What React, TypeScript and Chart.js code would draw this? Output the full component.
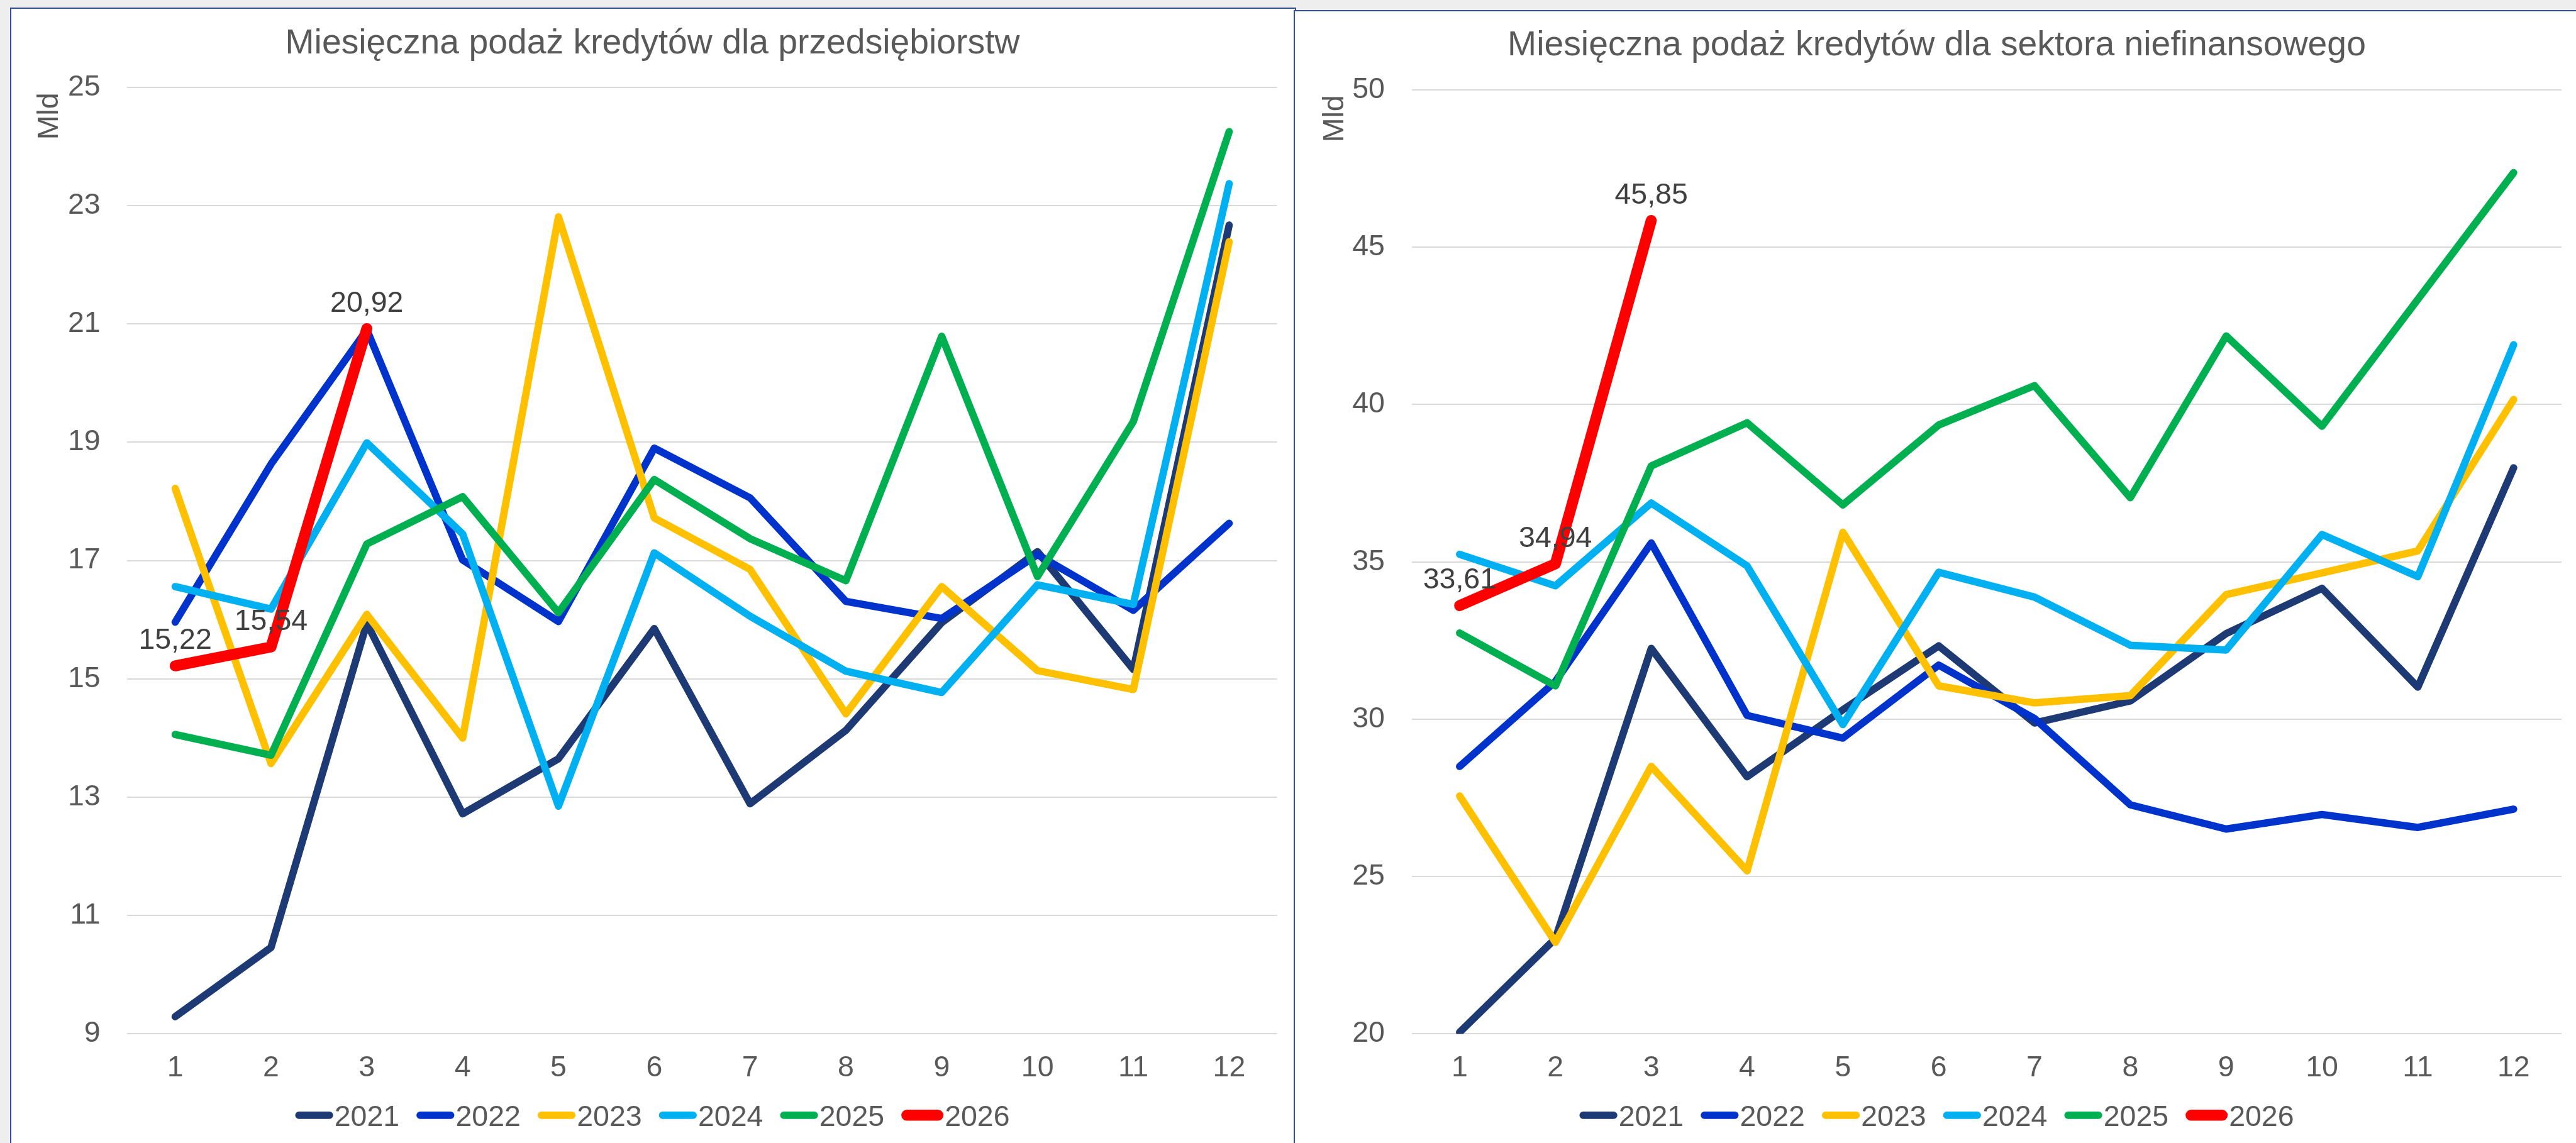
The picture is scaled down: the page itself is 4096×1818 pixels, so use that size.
import React, { useEffect, useRef } from "react";
import { Chart, registerables } from "chart.js";

Chart.register(...registerables);

// ---------- data ----------
const MONTHS = ["1", "2", "3", "4", "5", "6", "7", "8", "9", "10", "11", "12"];
const YEARS = ["2021", "2022", "2023", "2024", "2025", "2026"];

// Miesięczna podaż kredytów dla przedsiębiorstw (mld)
const ENT_2021 = [9.29, 10.46, 15.94, 12.72, 13.65, 15.85, 12.89, 14.13, 15.95, 17.15, 15.16, 22.67];
const ENT_2022 = [15.96, 18.63, 20.9, 17.01, 15.97, 18.9, 18.06, 16.31, 16.02, 17.1, 16.16, 17.63];
const ENT_2023 = [18.22, 13.57, 16.09, 14.0, 22.81, 17.72, 16.85, 14.41, 16.56, 15.14, 14.82, 22.39];
const ENT_2024 = [16.56, 16.18, 18.99, 17.45, 12.85, 17.13, 16.06, 15.13, 14.77, 16.59, 16.26, 23.37];
const ENT_2025 = [14.06, 13.71, 17.28, 18.08, 16.12, 18.37, 17.37, 16.66, 20.79, 16.73, 19.35, 24.25];
const ENT_2026 = [15.22, 15.54, 20.92];

// Miesięczna podaż kredytów dla sektora niefinansowego (mld)
const NF_2021 = [20.05, 23.03, 32.25, 28.17, 30.3, 32.33, 29.88, 30.58, 32.72, 34.16, 31.02, 37.99];
const NF_2022 = [28.5, 31.2, 35.6, 30.12, 29.4, 31.72, 30.02, 27.28, 26.51, 26.97, 26.56, 27.14];
const NF_2023 = [27.56, 22.91, 28.5, 25.18, 35.94, 31.06, 30.52, 30.75, 33.96, 34.65, 35.35, 40.16];
const NF_2024 = [35.24, 34.24, 36.87, 34.87, 29.83, 34.67, 33.88, 32.35, 32.2, 35.87, 34.53, 41.9];
const NF_2025 = [32.74, 31.06, 38.05, 39.42, 36.81, 39.35, 40.6, 37.04, 42.18, 39.31, 43.34, 47.37];
const NF_2026 = [33.61, 34.94, 45.85];

const ENT_TITLE = "Miesięczna podaż kredytów dla przedsiębiorstw";
const NF_TITLE = "Miesięczna podaż kredytów dla sektora niefinansowego";
const Y_TITLE = "Mld";

const ENT_TICKS = { min: 9, max: 25, step: 2 };
const NF_TICKS = { min: 20, max: 50, step: 5 };

// ---------- styles ----------
const COLORS = ["#1D3A75", "#0033CC", "#FFC000", "#00B0F0", "#00B050", "#FF0000"];
const LINE_W = [11.7, 11.7, 11.7, 11.7, 11.7, 17.5];
const FONT = "'Liberation Sans', Arial, sans-serif";
const TEXT = "#595959";
const LABEL_TEXT = "#404040";
const FS = 46.5;
const TITLE_FS = 55.3;
const X_AXIS_H = 100;

type Box = { left: number; top: number; width: number; height: number };
type Area = { left: number; right: number; top: number; bottom: number };

type PanelProps = {
  title: string;
  series: number[][];
  ticks: { min: number; max: number; step: number };
  canvas: Box;
  plot: Area;
  titleBaseline: number;
  mld: { x: number; y: number };
  legendBaseline: number;
};

function Panel(props: PanelProps) {
  const ref = useRef<HTMLCanvasElement | null>(null);

  useEffect(() => {
    const el = ref.current;
    if (!el) return;
    const { canvas: c, plot, series, ticks } = props;
    const yAxisW = plot.left - c.left;
    const padRight = c.left + c.width - plot.right;
    const padTop = plot.top - c.top;
    const padBottom = c.top + c.height - plot.bottom - X_AXIS_H;

    const decor = {
      id: "decor",
      afterDatasetsDraw(chart: any) {
        const ctx = chart.ctx as CanvasRenderingContext2D;
        const idx = series.length - 1;
        const meta = chart.getDatasetMeta(idx);
        ctx.save();
        ctx.font = `${FS}px ${FONT}`;
        ctx.fillStyle = LABEL_TEXT;
        ctx.textAlign = "center";
        ctx.textBaseline = "alphabetic";
        meta.data.forEach((pt: any, i: number) => {
          const v = series[idx][i];
          ctx.fillText(v.toFixed(2).replace(".", ","), pt.x, pt.y - 27);
        });
        ctx.restore();
      },
      afterDraw(chart: any) {
        const ctx = chart.ctx as CanvasRenderingContext2D;
        const W = chart.width;
        ctx.save();
        // title
        ctx.font = `${TITLE_FS}px ${FONT}`;
        ctx.fillStyle = TEXT;
        ctx.textAlign = "center";
        ctx.textBaseline = "alphabetic";
        ctx.fillText(props.title, W / 2, props.titleBaseline - c.top);
        // y-axis title
        ctx.save();
        ctx.translate(props.mld.x - c.left, props.mld.y - c.top);
        ctx.rotate(-Math.PI / 2);
        ctx.font = `${FS}px ${FONT}`;
        ctx.textAlign = "center";
        ctx.fillText(Y_TITLE, 0, 0);
        ctx.restore();
        // legend
        ctx.font = `${FS}px ${FONT}`;
        ctx.textAlign = "left";
        const gapText = 2;
        const gapItem = 27;
        const items = YEARS.map((y, i) => {
          const sw = i === YEARS.length - 1 ? 67 : 60.3;
          return { label: y, color: COLORS[i], lw: LINE_W[i], sw, tw: ctx.measureText(y).width };
        });
        const total =
          items.reduce((s, it) => s + it.sw + gapText + it.tw, 0) + gapItem * (items.length - 1);
        let x = W / 2 - total / 2;
        const base = props.legendBaseline - c.top;
        const midY = base - 0.358 * FS;
        items.forEach((it) => {
          ctx.strokeStyle = it.color;
          ctx.lineWidth = it.lw;
          ctx.lineCap = "round";
          ctx.beginPath();
          ctx.moveTo(x + it.lw / 2, midY);
          ctx.lineTo(x + it.sw - it.lw / 2, midY);
          ctx.stroke();
          x += it.sw + gapText;
          ctx.fillStyle = TEXT;
          ctx.fillText(it.label, x, base);
          x += it.tw + gapItem;
        });
        ctx.restore();
      },
    };

    const chart = new Chart(el, {
      type: "line",
      data: {
        labels: MONTHS,
        datasets: series.map((d, i) => ({
          label: YEARS[i],
          data: d,
          borderColor: COLORS[i],
          backgroundColor: COLORS[i],
          borderWidth: LINE_W[i],
          borderCapStyle: "round",
          borderJoinStyle: "round",
          pointRadius: 0,
          pointHoverRadius: 0,
          tension: 0,
          fill: false,
          order: series.length - 1 - i,
        })),
      },
      options: {
        responsive: false,
        maintainAspectRatio: false,
        animation: false,
        devicePixelRatio: 1,
        events: [],
        layout: { padding: { left: 0, right: padRight, top: padTop, bottom: padBottom } },
        plugins: {
          legend: { display: false },
          title: { display: false },
          tooltip: { enabled: false },
        },
        scales: {
          x: {
            type: "category",
            offset: true,
            grid: { display: false, drawTicks: false },
            border: { display: false },
            ticks: {
              color: TEXT,
              font: { size: FS, family: FONT },
              padding: 26.7,
              maxRotation: 0,
              autoSkip: false,
            },
            afterFit: (s: any) => {
              s.height = X_AXIS_H;
            },
          },
          y: {
            type: "linear",
            min: ticks.min,
            max: ticks.max,
            ticks: {
              stepSize: ticks.step,
              color: TEXT,
              font: { size: FS, family: FONT },
              padding: 42.8,
              callback: (v: any) => String(v),
            },
            grid: { color: "#D9D9D9", lineWidth: 2, drawTicks: false },
            border: { display: false },
            afterFit: (s: any) => {
              s.width = yAxisW;
            },
          },
        },
      },
      plugins: [decor],
    } as any);

    return () => {
      chart.destroy();
    };
  }, []);

  const c = props.canvas;
  return (
    <canvas
      ref={ref}
      width={c.width}
      height={c.height}
      style={{ position: "absolute", left: c.left, top: c.top, width: c.width, height: c.height }}
    />
  );
}

export default function App() {
  const frameStyle = (left: number, top: number, width: number): React.CSSProperties => ({
    position: "absolute",
    left,
    top,
    width,
    height: 1900,
    boxSizing: "border-box",
    border: "2px solid #2F528F",
    background: "#FFFFFF",
  });

  return (
    <div
      style={{
        position: "fixed",
        left: 0,
        top: 0,
        width: 4096,
        height: 1818,
        overflow: "hidden",
        background: "#EEEEEE",
      }}
    >
      <div style={frameStyle(16, 12, 2045)} />
      <div style={frameStyle(2057, 15.6, 2100)} />
      <Panel
        title={ENT_TITLE}
        series={[ENT_2021, ENT_2022, ENT_2023, ENT_2024, ENT_2025, ENT_2026]}
        ticks={ENT_TICKS}
        canvas={{ left: 18, top: 14, width: 2039, height: 1804 }}
        plot={{ left: 202.4, right: 2030.6, top: 138.8, bottom: 1644.4 }}
        titleBaseline={84.9}
        mld={{ x: 92.4, y: 184.9 }}
        legendBaseline={1790.5}
      />
      <Panel
        title={NF_TITLE}
        series={[NF_2021, NF_2022, NF_2023, NF_2024, NF_2025, NF_2026]}
        ticks={NF_TICKS}
        canvas={{ left: 2059, top: 18, width: 2041, height: 1800 }}
        plot={{ left: 2244.7, right: 4073, top: 143, bottom: 1644.4 }}
        titleBaseline={88.3}
        mld={{ x: 2135.7, y: 188.8 }}
        legendBaseline={1790.5}
      />
    </div>
  );
}
